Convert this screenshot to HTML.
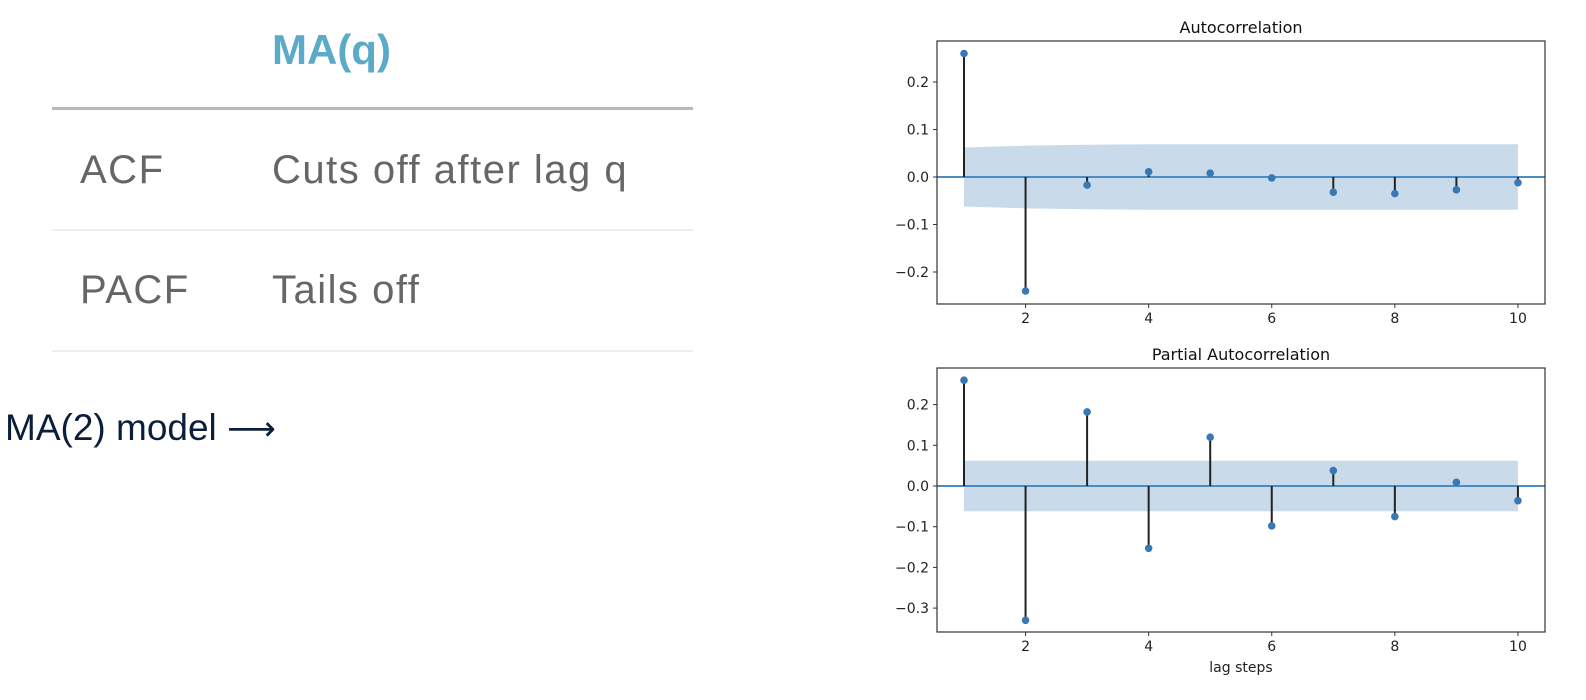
<!DOCTYPE html>
<html><head><meta charset="utf-8">
<style>
html,body{margin:0;padding:0;background:#fff;width:1586px;height:700px;overflow:hidden;font-family:"Liberation Sans","DejaVu Sans",sans-serif;}
.t{position:absolute;white-space:nowrap;}
.row{font-size:40px;color:#666;letter-spacing:1.5px;}
</style></head>
<body>
<div style="position:absolute;left:0;top:0;width:700px;height:380px;">
  <div class="t" style="left:272px;top:26px;font-size:42px;font-weight:bold;color:#5aaac8;">MA(q)</div>
  <div style="position:absolute;left:52px;top:107px;width:641px;height:3px;background:#b8b8b8;"></div>
  <div class="t row" style="left:80px;top:148px;">ACF</div>
  <div class="t row" style="left:272px;top:148px;">Cuts off after lag q</div>
  <div style="position:absolute;left:52px;top:229px;width:641px;height:2px;background:#eee;"></div>
  <div class="t row" style="left:80px;top:268px;">PACF</div>
  <div class="t row" style="left:272px;top:268px;">Tails off</div>
  <div style="position:absolute;left:52px;top:350px;width:641px;height:2px;background:#eee;"></div>
</div>
<div class="t" style="left:5px;top:407px;font-size:37px;color:#0b1f3a;">MA(2) model <span style="font-family:'DejaVu Sans',sans-serif;font-size:34px;">⟶</span></div>
<svg id="svg" width="1586" height="700" style="position:absolute;left:0;top:0;" font-family="DejaVu Sans, Liberation Sans, sans-serif"></svg>
<script>
const lags=[1,2,3,4,5,6,7,8,9,10];
const xTicks=[2,4,6,8,10];
const acfValues=[0.26,-0.24,-0.017,0.011,0.008,-0.002,-0.032,-0.035,-0.027,-0.012];
const acfBand=[0.062,0.066,0.068,0.069,0.069,0.069,0.069,0.069,0.069,0.069];
const acfTicks=[-0.2,-0.1,0.0,0.1,0.2];
const pacfValues=[0.26,-0.33,0.182,-0.153,0.12,-0.098,0.038,-0.075,0.009,-0.036];
const pacfBand=[0.062,0.062,0.062,0.062,0.062,0.062,0.062,0.062,0.062,0.062];
const pacfTicks=[-0.3,-0.2,-0.1,0.0,0.1,0.2];

const NS="http://www.w3.org/2000/svg";
const svg=document.getElementById('svg');
function mk(tag,attrs,parent){const e=document.createElementNS(NS,tag);for(const k in attrs)e.setAttribute(k,attrs[k]);(parent||svg).appendChild(e);return e;}
function fmt(v){const s=Math.abs(v).toFixed(1);return (v<-1e-9?'\u2212':'')+s;}

function chart(cfg){
  const g=mk('g',{});
  
  
  const L=937,R=1545,T=cfg.top,B=cfg.bottom;
  const xs=v=>964+(v-1)*61.55;
  const ys=v=>cfg.y0-v*cfg.ppu;
  let d='M'+xs(lags[0])+','+ys(cfg.band[0]);
  lags.forEach((l,i)=>{d+=' L'+xs(l)+','+ys(cfg.band[i]);});
  for(let i=lags.length-1;i>=0;i--)d+=' L'+xs(lags[i])+','+ys(-cfg.band[i]);
  const band=mk('path',{d:d+'Z',fill:'#c9dbea'},g);
  
  
  const z=mk('line',{x1:L,x2:R,y1:ys(0),y2:ys(0),stroke:'#4c8cc4','stroke-width':2},g);
  
  
  lags.forEach((l,i)=>{
    const s=mk('line',{x1:xs(l),x2:xs(l),y1:ys(0),y2:ys(cfg.vals[i]),stroke:'#222','stroke-width':2},g);
    
    
    const c=mk('circle',{cx:xs(l),cy:ys(cfg.vals[i]),r:3.8,fill:'#3a78b5'},g);
    
    
  });
  const box=mk('rect',{x:L,y:T,width:R-L,height:B-T,fill:'none',stroke:'#333','stroke-width':1.2},g);
  
  
  xTicks.forEach(t=>{
    mk('line',{x1:xs(t),x2:xs(t),y1:B,y2:B+4,stroke:'#333'},g);
    const tx=mk('text',{x:xs(t),y:B+19,'font-size':14,'text-anchor':'middle',fill:'#222'},g);
    tx.textContent=t;
    
    
  });
  cfg.ticks.forEach(t=>{
    mk('line',{x1:L-4,x2:L,y1:ys(t),y2:ys(t),stroke:'#333'},g);
    const tx=mk('text',{x:L-8,y:ys(t)+5,'font-size':14,'text-anchor':'end',fill:'#222'},g);
    tx.textContent=fmt(t);
    
    
  });
  const ti=mk('text',{x:(L+R)/2,y:T-8,'font-size':16,'text-anchor':'middle',fill:'#111'},g);
  ti.textContent=cfg.title;
  
  
  if(cfg.xlabel){
    const xl=mk('text',{x:(L+R)/2,y:B+40,'font-size':14,'text-anchor':'middle',fill:'#222'},g);
    xl.textContent=cfg.xlabel;
    
    
  }
}
chart({name:'acf-chart',title:'Autocorrelation',top:41,bottom:304,y0:177,ppu:475,vals:acfValues,band:acfBand,ticks:acfTicks});
chart({name:'pacf-chart',title:'Partial Autocorrelation',top:368,bottom:632,y0:486,ppu:407,vals:pacfValues,band:pacfBand,ticks:pacfTicks,xlabel:'lag steps'});
</script>
</body></html>
